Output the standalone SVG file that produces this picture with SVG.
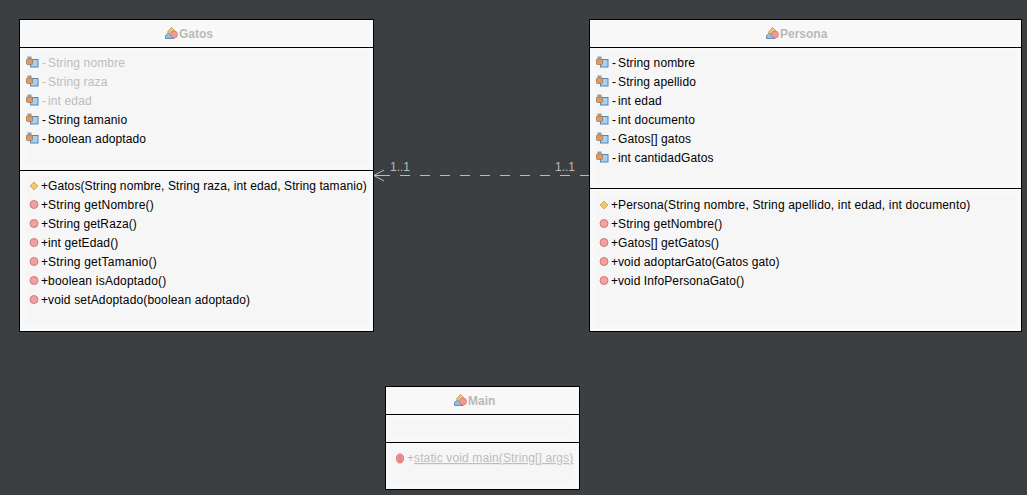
<svg xmlns="http://www.w3.org/2000/svg" width="1027" height="495" viewBox="0 0 1027 495">
<style>
text{font-family:"Liberation Sans",Arial,sans-serif;font-size:12px;fill:#000;letter-spacing:.13px}
.box{fill:#f8f8f8;stroke:#000;stroke-width:1}
.inner{fill:#f6f6f6}
.sep{stroke:#000;stroke-width:1;fill:none}
.title{font-weight:bold;fill:#b9b9b9;letter-spacing:0}
.dim{fill:#bdbdbd}
.conn{stroke:#bbbbbb;stroke-width:1;fill:none}
.lbl{fill:#bbbbbb;letter-spacing:0}
.c1{letter-spacing:.09px}
.c2{letter-spacing:.16px}
.m2{letter-spacing:.1px}
.m3{letter-spacing:.22px}
</style>
<defs>
<g id="cls">
<path d="M0.500 11.500V8.500L4 5.500L9 11.500Z" fill="#8fc0e8" stroke="#4c7fae" stroke-width="0.800"/>
<path d="M2.500 5L6.500 0.500L11 5L7 10Z" fill="#eec77a" stroke="#a9803c" stroke-width="0.700"/>
<circle cx="9" cy="7.500" r="3.500" fill="#f09a9a" stroke="#d06060" stroke-width="0.600"/>
</g>
<g id="fld">
<rect x="4.500" y="3.500" width="7.500" height="7.500" fill="#a8d0f0" stroke="#5586b5" stroke-width="1"/>
<rect x="0.500" y="3" width="6" height="5.500" rx="1" fill="#dd9a66" stroke="#a07850" stroke-width="0.800"/>
<rect x="1.500" y="0.500" width="4" height="2.500" fill="#999"/>
</g>
<g id="ctor"><path d="M4 0L8 4L4 8L0 4Z" fill="#f2c66e" stroke="#cf9f50" stroke-width="0.800"/></g>
<g id="mth"><circle cx="4" cy="4.500" r="4" fill="#f2a0a0" stroke="#c86a6a" stroke-width="0.800"/></g>
<g id="smth"><ellipse cx="4" cy="4.500" rx="3.500" ry="4.500" fill="#f09090" stroke="#c86a6a" stroke-width="0.800"/><path d="M4 1V8" stroke="#c86a6a" stroke-width="0.600"/></g>
</defs>
<rect width="1027" height="495" fill="#3c3f41"/>
<g id="connectors">
<path class="conn" d="M590 175.500H390" stroke-dasharray="10 10"/>
<path class="conn" d="M390 175.500H374"/>
<path class="conn" d="M384 170L374 175.500L384 181"/>
<text class="lbl" x="390" y="171">1..1</text>
<text class="lbl" x="555" y="171">1..1</text>
</g>
<g id="Gatos">
<rect class="box" x="19.500" y="19.500" width="354" height="312"/>
<rect class="inner" x="26" y="53" width="341" height="111"/>
<rect class="inner" x="26" y="176" width="341" height="149"/>
<path class="sep" d="M20 47.500H373M20 170.500H373"/>
<use href="#cls" x="165" y="27"/>
<text class="title" x="179" y="37.500">Gatos</text>
<use href="#fld" x="26" y="56"/><text class="dim" x="42" y="67">-</text><text class="dim" x="48" y="67">String nombre</text>
<use href="#fld" x="26" y="75"/><text class="dim" x="42" y="86">-</text><text class="dim" x="48" y="86">String raza</text>
<use href="#fld" x="26" y="94"/><text class="dim" x="42" y="105">-</text><text class="dim" x="48" y="105">int edad</text>
<use href="#fld" x="26" y="113"/><text x="42" y="124">-</text><text x="48" y="124">String tamanio</text>
<use href="#fld" x="26" y="132"/><text x="42" y="143">-</text><text x="48" y="143">boolean adoptado</text>
<use href="#ctor" x="30" y="182"/><text x="41" y="190">+</text><text class="c1" x="48" y="190">Gatos(String nombre, String raza, int edad, String tamanio)</text>
<use href="#mth" x="30" y="200"/><text x="41" y="209">+</text><text class="m3" x="48" y="209">String getNombre()</text>
<use href="#mth" x="30" y="219"/><text x="41" y="228">+</text><text class="m2" x="48" y="228">String getRaza()</text>
<use href="#mth" x="30" y="238"/><text x="41" y="247">+</text><text x="48" y="247">int getEdad()</text>
<use href="#mth" x="30" y="257"/><text x="41" y="266">+</text><text class="m3" x="48" y="266">String getTamanio()</text>
<use href="#mth" x="30" y="276"/><text x="41" y="285">+</text><text class="m3" x="48" y="285">boolean isAdoptado()</text>
<use href="#mth" x="30" y="295"/><text x="41" y="304">+</text><text class="c2" x="48" y="304">void setAdoptado(boolean adoptado)</text>
</g>
<g id="Persona">
<rect class="box" x="589.500" y="19.500" width="432" height="312"/>
<rect class="inner" x="596" y="53" width="419" height="130"/>
<rect class="inner" x="596" y="195" width="419" height="130"/>
<path class="sep" d="M590 47.500H1021M590 188.500H1021"/>
<use href="#cls" x="766" y="27"/>
<text class="title" x="780" y="37.500">Persona</text>
<use href="#fld" x="596" y="56"/><text x="612" y="67">-</text><text x="618" y="67">String nombre</text>
<use href="#fld" x="596" y="75"/><text x="612" y="86">-</text><text x="618" y="86">String apellido</text>
<use href="#fld" x="596" y="94"/><text x="612" y="105">-</text><text x="618" y="105">int edad</text>
<use href="#fld" x="596" y="113"/><text x="612" y="124">-</text><text x="618" y="124">int documento</text>
<use href="#fld" x="596" y="132"/><text x="612" y="143">-</text><text x="618" y="143">Gatos[] gatos</text>
<use href="#fld" x="596" y="151"/><text x="612" y="162">-</text><text x="618" y="162">int cantidadGatos</text>
<use href="#ctor" x="600" y="201"/><text x="611" y="209">+</text><text class="c2" x="618" y="209">Persona(String nombre, String apellido, int edad, int documento)</text>
<use href="#mth" x="600" y="219"/><text x="611" y="228">+</text><text x="618" y="228">String getNombre()</text>
<use href="#mth" x="600" y="238"/><text x="611" y="247">+</text><text x="618" y="247">Gatos[] getGatos()</text>
<use href="#mth" x="600" y="257"/><text x="611" y="266">+</text><text class="m2" x="618" y="266">void adoptarGato(Gatos gato)</text>
<use href="#mth" x="600" y="276"/><text x="611" y="285">+</text><text class="m2" x="618" y="285">void InfoPersonaGato()</text>
</g>
<g id="Main">
<rect class="box" x="385.500" y="386.500" width="194" height="103"/>
<rect class="inner" x="392" y="421" width="181" height="15"/>
<rect class="inner" x="392" y="449" width="181" height="34"/>
<path class="sep" d="M386 414.500H579M386 442.500H579"/>
<use href="#cls" x="454" y="394"/>
<text class="title" x="468" y="404.500">Main</text>
<use href="#smth" x="396" y="454"/><text class="dim" x="407" y="462">+</text>
<text class="dim" x="414" y="462" text-decoration="underline">static void main(String[] args)</text>
</g>
</svg>
